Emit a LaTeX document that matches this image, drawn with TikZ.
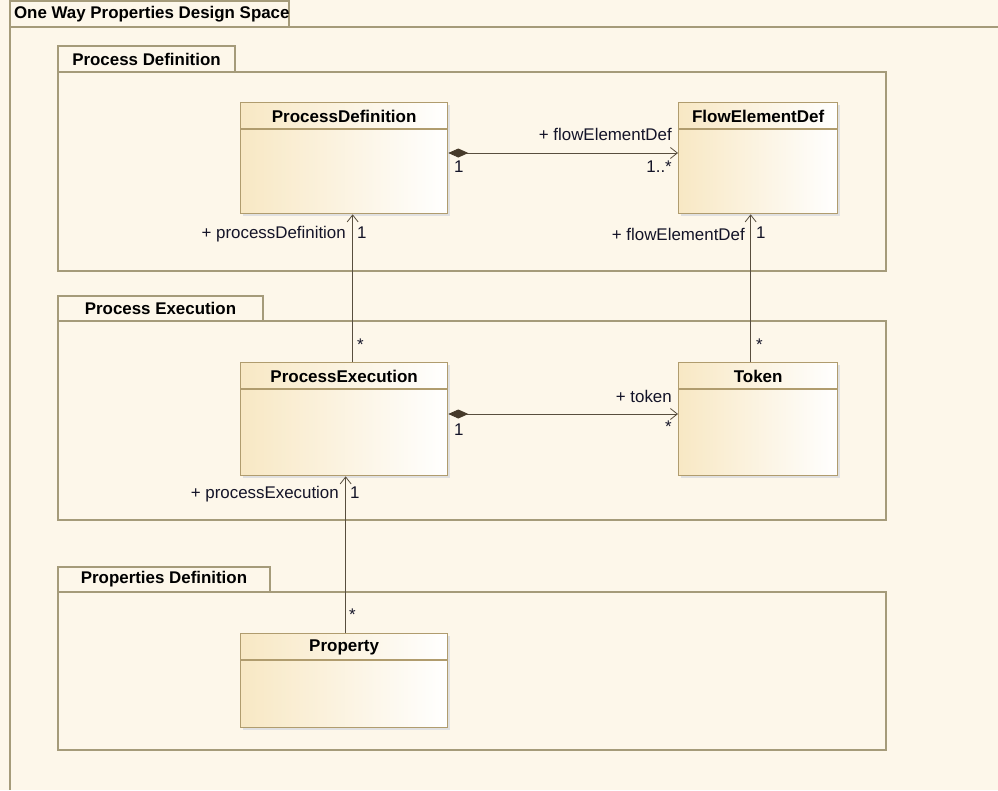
\documentclass[tikz,border=0pt]{standalone}
\usepackage{fontspec}
\setmainfont{Liberation Sans}
\usetikzlibrary{arrows.meta}
\definecolor{bg}{RGB}{253,247,234}
\definecolor{pkgline}{RGB}{165,155,122}
\definecolor{clsline}{RGB}{176,156,110}
\definecolor{clsfill}{RGB}{248,232,196}
\definecolor{conn}{RGB}{88,78,62}
\definecolor{diam}{RGB}{70,58,42}
\definecolor{lbl}{RGB}{20,20,40}
\tikzset{
  x=1pt,y=-1pt,
  pkg/.style={draw=pkgline,line width=1.2pt,fill=bg},
  tabtext/.style={font=\fontsize{16.9}{19}\selectfont\bfseries,text=black},
  cls/.style={draw=clsline,line width=1.3pt,left color=clsfill,right color=white,rectangle,inner sep=0pt,anchor=north west},
  clsshadow/.style={fill=black!12},
  clstitle/.style={font=\fontsize{17}{19}\selectfont\bfseries,text=black},
  lab/.style={font=\fontsize{16.9}{19}\selectfont,text=lbl,inner sep=0pt},
  assoc/.style={draw=conn,line width=0.9pt,-{Straight Barb[length=7pt,width=11pt,line width=0.8pt]}},
  compo/.style={draw=conn,line width=0.9pt,{Diamond[length=20pt,width=9pt,fill=diam,color=diam]}-{Straight Barb[length=7pt,width=11pt,line width=0.8pt]}},
}
\begin{document}
\begin{tikzpicture}
\useasboundingbox (0,0) rectangle (998,790);
\fill[bg] (0,0) rectangle (998,790);
% outer frame
\draw[draw=pkgline,line width=1.4pt] (998,27) -- (10,27) -- (10,790);
\draw[pkg] (10,1) rectangle (289,27);
\node[tabtext,anchor=west] (frametitle) at (10.5,14) {One Way Properties Design Space};

% packages
\draw[pkg] (58,46) rectangle (235,72);
\draw[pkg] (58,72) rectangle (886,271);
\node[tabtext] (pkg1) at (146.5,59.5) {Process Definition};

\draw[pkg] (58,296) rectangle (263,321);
\draw[pkg] (58,321) rectangle (886,520);
\node[tabtext] (pkg2) at (160.5,308.5) {Process Execution};

\draw[pkg] (58,567) rectangle (270,592);
\draw[pkg] (58,592) rectangle (886,750);
\node[tabtext] (pkg3) at (164,579.5) {Properties Definition};

% class shadows
\fill[clsshadow] (243,105) rectangle (450,216);
\fill[clsshadow] (681,105) rectangle (840,216);
\fill[clsshadow] (243,365) rectangle (450,478);
\fill[clsshadow] (681,365) rectangle (840,478);
\fill[clsshadow] (243,636) rectangle (450,730);

% classes
\node[cls,minimum width=207pt,minimum height=111pt] (pd) at (240,102) {};
\node[cls,minimum width=159pt,minimum height=111pt] (fed) at (678,102) {};
\node[cls,minimum width=207pt,minimum height=113pt] (pe) at (240,362) {};
\node[cls,minimum width=159pt,minimum height=113pt] (tok) at (678,362) {};
\node[cls,minimum width=207pt,minimum height=94pt] (prop) at (240,633) {};

\foreach \c in {pd,fed,pe,tok,prop}{
  \draw[clsline,line width=1.1pt] ([yshift=-27pt]\c.north west) -- ([yshift=-27pt]\c.north east);
}
\node[clstitle] (pdt) at ([yshift=-14pt]pd.north) {ProcessDefinition};
\node[clstitle] (fedt) at ([yshift=-14pt]fed.north) {FlowElementDef};
\node[clstitle] (pet) at ([yshift=-14pt]pe.north) {ProcessExecution};
\node[clstitle] (tokt) at ([yshift=-14pt]tok.north) {Token};
\node[clstitle] (propt) at ([yshift=-14pt]prop.north) {Property};

% connectors
\draw[compo] ([yshift=-51pt]pd.north east) -- ([yshift=-51pt]fed.north west);
\draw[compo] ([yshift=-52pt]pe.north east) -- ([yshift=-52pt]tok.north west);
\draw[assoc] ([xshift=8.5pt]pe.north) -- ([xshift=8.5pt]pd.south);
\draw[assoc] ([xshift=-7.5pt]tok.north) -- ([xshift=-7.5pt]fed.south);
\draw[assoc] ([xshift=1.5pt]prop.north) -- ([xshift=1.5pt]pe.south);

% labels
\node[lab,anchor=east] (l1) at (672,134) {+ flowElementDef};
\node[lab,anchor=east] (l2) at (672,167) {1..*};
\node[lab,anchor=west] (l3) at (454,167) {1};
\node[lab,anchor=east] (l4) at (346,234) {+ processDefinition};
\node[lab,anchor=west] (l5) at (357,233) {1};
\node[lab,anchor=west] (l6) at (357,345) {*};
\node[lab,anchor=east] (l7) at (745,234) {+ flowElementDef};
\node[lab,anchor=west] (l8) at (756,233) {1};
\node[lab,anchor=west] (l9) at (756,345) {*};
\node[lab,anchor=east] (l10) at (672,396) {+ token};
\node[lab,anchor=east] (l11) at (672,427) {*};
\node[lab,anchor=west] (l12) at (454,430) {1};
\node[lab,anchor=east] (l13) at (339,494) {+ processExecution};
\node[lab,anchor=west] (l14) at (350,493) {1};
\node[lab,anchor=west] (l15) at (349,615) {*};
\end{tikzpicture}
\end{document}
